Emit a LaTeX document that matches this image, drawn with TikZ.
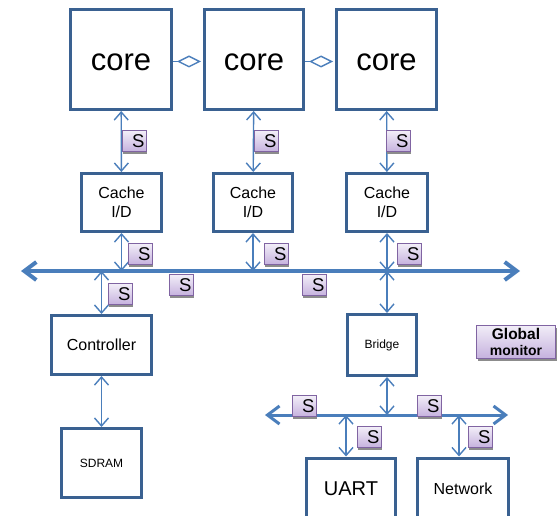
\documentclass[tikz,border=0pt]{standalone}
\usepackage{fontspec}
\setmainfont{Liberation Sans}
\usetikzlibrary{arrows.meta,shadows}
\definecolor{boxblue}{HTML}{3A6191}
\definecolor{linkblue}{HTML}{4A7EBB}
\definecolor{sviolet}{HTML}{8064A2}
\definecolor{stop}{HTML}{F2EEF8}
\definecolor{sbot}{HTML}{C6B2DE}

\begin{document}
\begin{tikzpicture}[x=1pt,y=-1pt,>={Straight Barb[length=8pt,width=14pt]}]
	\tikzstyle{block}=[rectangle, draw=boxblue, line width=3pt, fill=white, inner sep=0pt]
	\tikzstyle{link}=[<->, draw=linkblue, line width=1.4pt]
	\tikzstyle{bus}=[draw=linkblue, {Straight Barb[length=12pt,width=18pt]}-{Straight Barb[length=12pt,width=18pt]}]
	\tikzstyle{spy}=[rectangle, draw=sviolet, line width=0.8pt, top color=stop, bottom color=sbot, minimum width=24pt, minimum height=21pt, text width=21pt, align=right, inner xsep=1.5pt, inner ysep=0pt, font=\fontsize{18.5}{18.5}\selectfont, drop shadow={shadow xshift=1pt,shadow yshift=-2.5pt,fill=black!45,opacity=1}]

	\clip (0,0) rectangle (557,516);

	% cores
	\node [block, minimum width=101pt, minimum height=100pt, text height=22pt, text depth=0pt, font=\fontsize{31}{31}\selectfont] (core1) at (121,59.5) {core};
	\node [block, minimum width=99pt, minimum height=100pt, text height=22pt, text depth=0pt, font=\fontsize{31}{31}\selectfont] (core2) at (254,59.5) {core};
	\node [block, minimum width=100pt, minimum height=100pt, text height=22pt, text depth=0pt, font=\fontsize{31}{31}\selectfont] (core3) at (386.5,59.5) {core};

	% caches
	\node [block, minimum width=80pt, minimum height=58pt, align=center, font=\fontsize{16}{19}\selectfont] (cache1) at (121.5,202.5) {Cache\\I/D};
	\node [block, minimum width=79pt, minimum height=58pt, align=center, font=\fontsize{16}{19}\selectfont] (cache2) at (253,202.5) {Cache\\I/D};
	\node [block, minimum width=81pt, minimum height=58pt, align=center, font=\fontsize{16}{19}\selectfont] (cache3) at (387,202.5) {Cache\\I/D};

	% memory side
	\node [block, minimum width=100pt, minimum height=59pt, font=\fontsize{16}{16}\selectfont] (ctrl) at (101.5,345) {Controller};
	\node [block, minimum width=80pt, minimum height=69pt, font=\fontsize{12}{12}\selectfont] (sdram) at (101.5,463) {SDRAM};

	% peripheral side
	\node [block, minimum width=69pt, minimum height=61pt, font=\fontsize{12}{12}\selectfont] (bridge) at (382,345) {Bridge};
	\node [block, minimum width=89pt, minimum height=62pt, font=\fontsize{20}{20}\selectfont] (uart) at (351,489) {UART};
	\node [block, minimum width=91pt, minimum height=62pt, font=\fontsize{16}{16}\selectfont] (network) at (463,489) {Network};

	\node [spy, minimum width=79pt, minimum height=33pt, text width=75pt, align=center, font=\fontsize{14}{16}\selectfont\bfseries] (gmon) at (516,341.5) {{\fontsize{15.5}{16}\selectfont Global}\\{\fontsize{14}{16}\selectfont monitor}};

	% buses
	\coordinate (busL) at (21,271);
	\coordinate (busR) at (520,271);
	\coordinate (bus2L) at (265,415);
	\coordinate (bus2R) at (508,415);
	\coordinate (uartin) at ([xshift=-5pt]uart.north);
	\coordinate (netin) at ([xshift=-4pt]network.north);

	\draw [bus, line width=4pt] (busL) -- (busR);
	\draw [bus, line width=3pt] (bus2L) -- (bus2R);

	% core links
	\draw [-{Diamond[open,length=24pt,width=12pt]}, draw=linkblue, line width=1.4pt, shorten >=2pt] ([yshift=-2pt]core1.east) -- ([yshift=-2pt]core2.west);
	\draw [-{Diamond[open,length=24pt,width=12pt]}, draw=linkblue, line width=1.4pt, shorten >=2pt] ([yshift=-2pt]core2.east) -- ([yshift=-2pt]core3.west);

	\draw [link] (core1) -- (cache1);
	\draw [link] (core2) -- (cache2);
	\draw [link] (core3) -- (cache3);

	\draw [link] (cache1.south) -- (cache1.south |- busL);
	\draw [link] (cache2.south) -- (cache2.south |- busL);
	\draw [link] (cache3.south) -- (cache3.south |- busL);

	\draw [link] (ctrl.north |- busL) -- (ctrl.north);
	\draw [link] (ctrl) -- (sdram);
	\draw [link] (cache3.south |- busL) -- (cache3.south |- bridge.north);
	\draw [link] (cache3.south |- bridge.south) -- (cache3.south |- bus2L);
	\draw [link] (uartin |- bus2L) -- (uartin);
	\draw [link] (netin |- bus2L) -- (netin);

	% spies
	\node [spy] (sc1) at (134,141) {S};
	\node [spy] (sc2) at (266,141) {S};
	\node [spy] (sc3) at (398,141) {S};
	\node [spy] (sk1) at (140,254) {S};
	\node [spy] (sk2) at (276,254) {S};
	\node [spy] (sk3) at (409,254) {S};
	\node [spy] (sb1) at (181,285) {S};
	\node [spy] (sb2) at (314,285) {S};
	\node [spy] (sctl) at (120,294) {S};
	\node [spy] (sp1) at (304,406) {S};
	\node [spy] (sp2) at (429,406) {S};
	\node [spy] (su) at (369,437) {S};
	\node [spy] (sn) at (480,437) {S};
\end{tikzpicture}
\end{document}
